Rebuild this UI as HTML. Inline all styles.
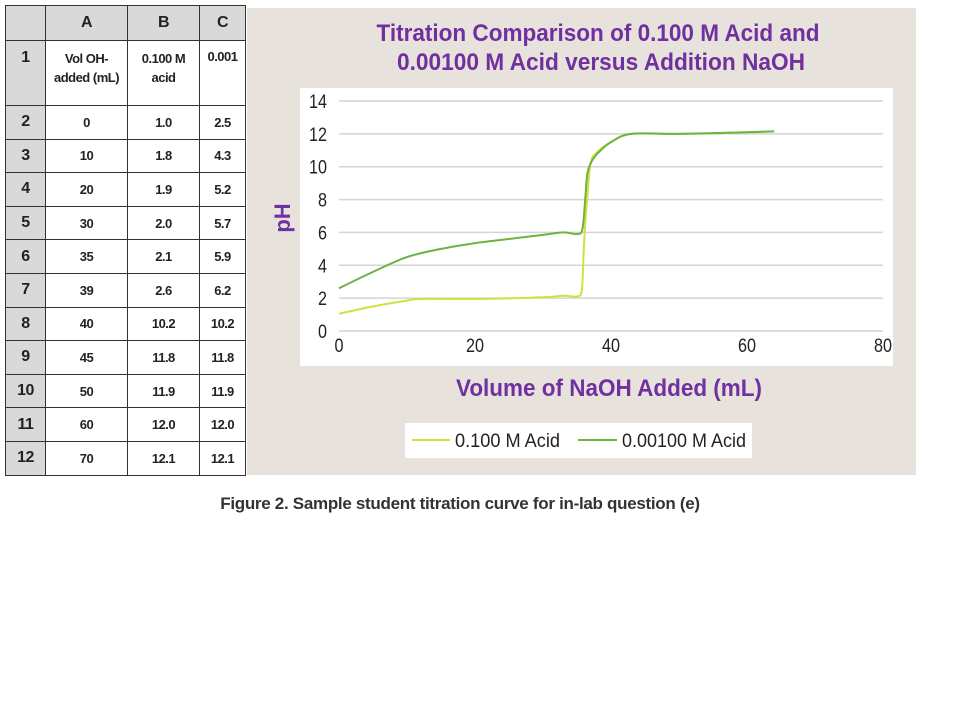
<!DOCTYPE html>
<html><head><meta charset="utf-8"><style>
body{margin:0;width:960px;height:720px;background:#fff;position:relative;overflow:hidden;font-family:"Liberation Sans",sans-serif}
table{position:absolute;left:5px;top:5px;border-collapse:collapse;font-size:13px;font-weight:bold;color:#222;letter-spacing:-0.5px}
td{border:1.5px solid #333;text-align:center;padding:0;background:#fff}
td.h{background:#d9d9d9;font-size:16px}
#panel{position:absolute;left:247px;top:8px;width:669px;height:467px;background:#e7e3dc}
#caption{position:absolute;left:0;width:920px;top:494px;text-align:center;font-weight:bold;font-size:17px;color:#333;letter-spacing:-0.3px}
</style></head><body>
<table>
<tr style="height:35px"><td class="h" style="width:39px"></td><td class="h" style="width:81px">A</td><td class="h" style="width:71px">B</td><td class="h" style="width:45px">C</td></tr>
<tr style="height:65px;vertical-align:top"><td class="h" style="vertical-align:top;padding-top:8px">1</td><td style="padding-top:8px;line-height:19px">Vol OH-<br>added (mL)</td><td style="padding-top:8px;line-height:19px">0.100 M<br>acid</td><td style="padding-top:8px">0.001</td></tr>
<tbody id="tb"></tbody>
</table>
<div id="panel"></div>
<svg width="960" height="720" style="position:absolute;left:0;top:0" id="svg"></svg>
<div id="caption">Figure 2. Sample student titration curve for in-lab question (e)</div>
<script>
const rowNums=[2,3,4,5,6,7,8,9,10,11,12];
const colA=[0,10,20,30,35,39,40,45,50,60,70];
const colB=["1.0","1.8","1.9","2.0","2.1","2.6","10.2","11.8","11.9","12.0","12.1"];
const colC=["2.5","4.3","5.2","5.7","5.9","6.2","10.2","11.8","11.9","12.0","12.1"];
const tb=document.getElementById('tb');
rowNums.forEach((n,i)=>{
 const tr=document.createElement('tr');tr.style.height='33.6px';
 
 
 tr.innerHTML='<td class="h">'+n+'</td><td>'+colA[i]+'</td><td>'+colB[i]+'</td><td>'+colC[i]+'</td>';
 tb.appendChild(tr);
});

const xTicks=[0,20,40,60,80];
const yTicks=[0,2,4,6,8,10,12,14];
const acid1X=[0,5,10,12,20,30,33,35,35.7,36,36.2,36.5,37,38,40,43,50,60,64];
const acid1Y=[1.05,1.5,1.85,1.95,1.95,2.05,2.15,2.1,2.5,5,6.5,8,10.2,10.9,11.5,12.0,12.0,12.1,12.15];
const acid2X=[0,5,10,15,20,25,30,33,35,35.8,36.2,36.5,37,38,40,43,50,60,64];
const acid2Y=[2.6,3.6,4.5,5.0,5.35,5.6,5.85,6.0,5.9,6.2,8,9.5,10.2,10.8,11.5,12.0,12.0,12.1,12.15];

const X=v=>339+v*(883-339)/80, Y=v=>331-v*(331-101)/14;
const svg=document.getElementById('svg');const NS='http://www.w3.org/2000/svg';
function el(t,a,txt){const e=document.createElementNS(NS,t);for(const k in a)e.setAttribute(k,a[k]);if(txt!=null)e.textContent=txt;svg.appendChild(e);return e;}
const F='"Liberation Sans",sans-serif';
const fit={lengthAdjust:'spacingAndGlyphs'};
let e=el('rect',{x:300,y:88,width:593,height:278,fill:'#fff'});


let t=el('text',{x:598,y:41,'text-anchor':'middle','font-family':F,'font-size':24,'font-weight':'bold',fill:'#7030a0',textLength:443,lengthAdjust:'spacingAndGlyphs'},'Titration Comparison of 0.100 M Acid and');


t=el('text',{x:601,y:70,'text-anchor':'middle','font-family':F,'font-size':24,'font-weight':'bold',fill:'#7030a0',textLength:408,lengthAdjust:'spacingAndGlyphs'},'0.00100 M Acid versus Addition NaOH');


yTicks.forEach(v=>{
 const g=el('line',{x1:X(0),x2:X(80),y1:Y(v),y2:Y(v),stroke:'#d4d4d4','stroke-width':1.5});
 
 
 const l=el('text',{x:X(0)-12,y:Y(v)+7,'text-anchor':'end','font-family':F,'font-size':19,fill:'#222',textLength:String(v).length*9,lengthAdjust:'spacingAndGlyphs'},v);
 
 
});
xTicks.forEach(v=>{
 const l=el('text',{x:X(v),y:352,'text-anchor':'middle','font-family':F,'font-size':19,fill:'#222',textLength:String(v).length*9,lengthAdjust:'spacingAndGlyphs'},v);
 
 
});
t=el('text',{x:0,y:0,transform:'translate(290,218) rotate(-90)','text-anchor':'middle','font-family':F,'font-size':22,'font-weight':'bold',fill:'#7030a0'},'pH');


t=el('text',{x:609,y:396,'text-anchor':'middle','font-family':F,'font-size':24,'font-weight':'bold',fill:'#7030a0',textLength:306,lengthAdjust:'spacingAndGlyphs'},'Volume of NaOH Added (mL)');


function path(xs,ys){
 const P=xs.map((x,i)=>[X(x),Y(ys[i])]);
 let d='M'+P[0][0].toFixed(1)+','+P[0][1].toFixed(1);
 for(let i=0;i<P.length-1;i++){
  const p0=P[Math.max(i-1,0)],p1=P[i],p2=P[i+1],p3=P[Math.min(i+2,P.length-1)];
  const c1=[p1[0]+(p2[0]-p0[0])/6,p1[1]+(p2[1]-p0[1])/6];
  const c2=[p2[0]-(p3[0]-p1[0])/6,p2[1]-(p3[1]-p1[1])/6];
  d+='C'+c1[0].toFixed(1)+','+c1[1].toFixed(1)+' '+c2[0].toFixed(1)+','+c2[1].toFixed(1)+' '+p2[0].toFixed(1)+','+p2[1].toFixed(1);
 }
 return d;}
let p=el('path',{d:path(acid1X,acid1Y),fill:'none',stroke:'#d4e040','stroke-width':2,'stroke-linejoin':'round'});


p=el('path',{d:path(acid2X,acid2Y),fill:'none',stroke:'#6db33f','stroke-width':2,'stroke-linejoin':'round'});


let lg=el('rect',{x:405,y:423,width:347,height:35,fill:'#fff'});


let ln=el('line',{x1:412,x2:450,y1:440,y2:440,stroke:'#d4e040','stroke-width':2});


t=el('text',{x:455,y:447,'font-family':F,'font-size':19,fill:'#222',textLength:105,lengthAdjust:'spacingAndGlyphs'},'0.100 M Acid');


ln=el('line',{x1:578,x2:617,y1:440,y2:440,stroke:'#6db33f','stroke-width':2});


t=el('text',{x:622,y:447,'font-family':F,'font-size':19,fill:'#222',textLength:124,lengthAdjust:'spacingAndGlyphs'},'0.00100 M Acid');


</script>
</body></html>
